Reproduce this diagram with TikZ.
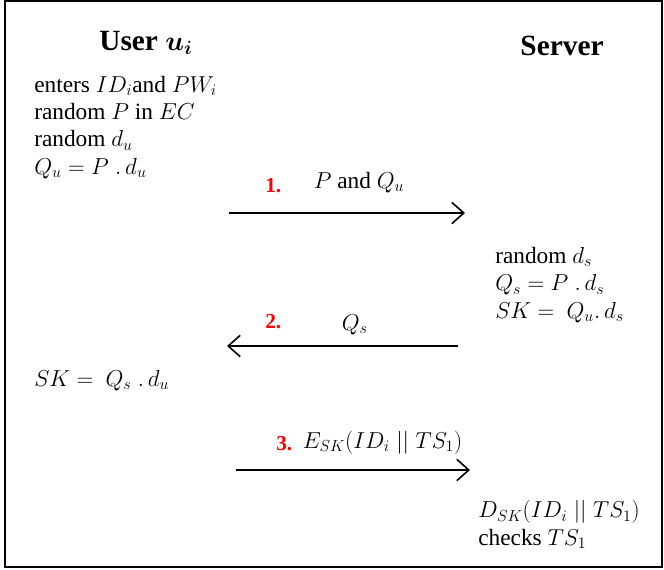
\documentclass[tikz,border=0pt]{standalone}
\usepackage{amsmath}
\usepackage{fontspec}
\setmainfont{Liberation Serif}
\usetikzlibrary{
  	arrows.meta,
  	positioning,
  	calc
  }
\tikzstyle{party}=[font=\fontsize{22}{26}\selectfont\bfseries,inner sep=0pt,anchor=base]
\tikzstyle{steps}=[font=\fontsize{17.5}{20.5}\selectfont,align=left,inner sep=0pt,anchor=base west]
\tikzstyle{msg}=[font=\fontsize{17.5}{20}\selectfont,inner sep=0pt,anchor=base west]
\tikzstyle{num}=[font=\fontsize{16}{19}\selectfont\bfseries,text=red,inner sep=0pt,anchor=base west]
\tikzstyle{flow}=[line width=1.4pt,-{Straight Barb[length=9pt,width=16pt,line width=1.2pt]}]

\begin{document}
\begin{tikzpicture}[x=0.75pt,y=-0.75pt]
  \useasboundingbox (0,0) rectangle (664,569);
  \draw [line width=1.5pt] (5,1) rectangle (662,567);
%
  \node[party] (user) at (146,50) {User $\boldsymbol{u_i}$};
  \node[party] (server) at (562,55) {Server};
%
% base of a multi-line node = its last line
  \node[steps] (u1) at (34,174) {enters $ID_i$and $PW_i$\\
     random $P$ in $EC$\\
     random $d_u$\\
     $Q_u = P\;.\,d_u$};
  \node[steps] (s1) at (495,318) {random $d_s$\\
     $Q_s = P\;.\,d_s$\\
     $SK =\ Q_u.\,d_s$};
  \node[steps] (u2) at (34,386) {$SK =\ Q_s\;.\,d_u$};
  \node[steps] (s2) at (478,545) {$D_{SK}(ID_i\mathrel{||}TS_1)$\\
     checks $TS_1$};
%
  \node[num] (n1) at (265,192) {1.};
  \path (n1.base east)++(32,-4) node[msg] (m1) {$P$ and $Q_u$};
  \node[num] (n2) at (265,328) {2.};
  \path (n2.base east)++(60,2) node[msg] (m2) {$Q_s$};
  \node[num] (n3) at (276,450) {3.};
  \path (n3.base east)++(10,-2) node[msg] (m3) {$E_{SK}(ID_i\mathrel{||}TS_1)$};
%
  \coordinate (a1s) at (229,213);
  \coordinate (a1e) at (465,213);
  \coordinate (a2s) at (458,346);
  \coordinate (a2e) at (227,346);
  \coordinate (a3s) at (236,470);
  \coordinate (a3e) at (470,470);
  \draw [flow] (a1s) -- (a1e);
  \draw [flow] (a2s) -- (a2e);
  \draw [flow] (a3s) -- (a3e);
\end{tikzpicture}
\end{document}
